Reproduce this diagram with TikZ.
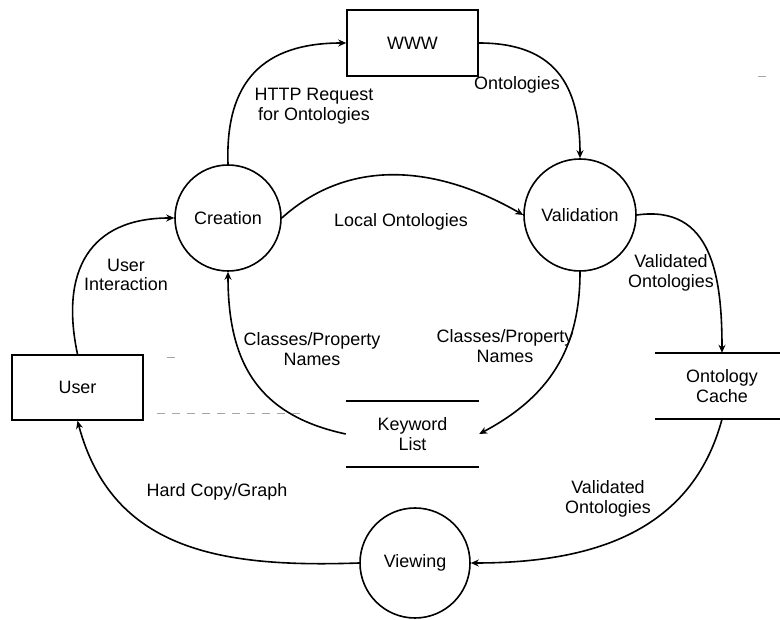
\documentclass[tikz,border=0pt]{standalone}
\usepackage{fontspec}
\setmainfont{Liberation Sans}
\usetikzlibrary{arrows.meta}
\begin{document}
\begin{tikzpicture}[x=1bp,y=1bp,
  every node/.style={font=\fontsize{18}{19.5}\selectfont, align=center, inner sep=0pt},
  proc/.style={draw, circle, line width=1.6bp},
  entity/.style={draw, rectangle, line width=1.6bp},
  store/.style={rectangle, append after command={
      \pgfextra{\draw[line width=1.6bp] (\tikzlastnode.north west) -- (\tikzlastnode.north east);
                \draw[line width=1.6bp] (\tikzlastnode.south west) -- (\tikzlastnode.south east);}}},
  flow/.style={line width=1.6bp, -{Stealth[length=8bp,width=7bp]}},
  faint/.style={gray!70, line width=0.8bp, dash pattern=on 8bp off 7bp}
]
\useasboundingbox (0,0) rectangle (780,620);
\clip (0,0) rectangle (780,620);

% external entities
\node[entity, minimum width=131bp, minimum height=66bp] (www) at (412.5,577) {WWW};
\node[entity, minimum width=131bp, minimum height=65bp] (user) at (77.5,232.5) {User};

% processes
\node[proc, minimum size=106bp] (creation) at (228,402) {Creation};
\node[proc, minimum size=112bp] (validation) at (580,405) {Validation};
\node[proc, minimum size=110bp] (viewing) at (415,57) {Viewing};

% data stores
\node[store, minimum width=134bp, minimum height=66bp] (cache) at (722,234) {Ontology\\Cache};
\node[store, minimum width=133bp, minimum height=66bp] (kw) at (412.5,186) {Keyword\\List};

% data flows
\draw[flow] (creation.north) to[out=92,in=180,looseness=1.25] (www.west);
\draw[flow] (www.east) to[out=0,in=90,looseness=1.25] (validation.north);
\draw[flow] (creation.east) to[out=42,in=150,looseness=1.0] (validation.west);
\draw[flow] (user.north) to[out=102,in=180,looseness=1.3] (creation.west);
\draw[flow] (kw.west) to[out=168,in=-90,looseness=1.15] (creation.south);
\draw[flow] (validation.south) to[out=-90,in=28,looseness=1.05] (kw.east);
\draw[flow] (validation.east) to[out=8,in=90,looseness=1.2] (cache.north);
\draw[flow] (cache.south) to[out=-105,in=0,looseness=1.05] (viewing.east);
\draw[flow] (viewing.west) to[out=182,in=-75,looseness=1.1] (user.south);

% flow labels
\node at (314,514) {HTTP Request\\for Ontologies};
\node at (517,535) {Ontologies};
\node at (401,398) {Local Ontologies};
\node at (126,345) {User\\Interaction};
\node at (312,271) {Classes/Property\\Names};
\node at (505,274) {Classes/Property\\Names};
\node at (671,347) {Validated\\Ontologies};
\node at (608,121) {Validated\\Ontologies};
\node at (217,128) {Hard Copy/Graph};

% stray rules
\draw[faint] (157,207) -- (300,207);
\draw[faint] (167,263) -- (177,263);
\draw[faint] (758,544) -- (768,544);
\end{tikzpicture}
\end{document}
